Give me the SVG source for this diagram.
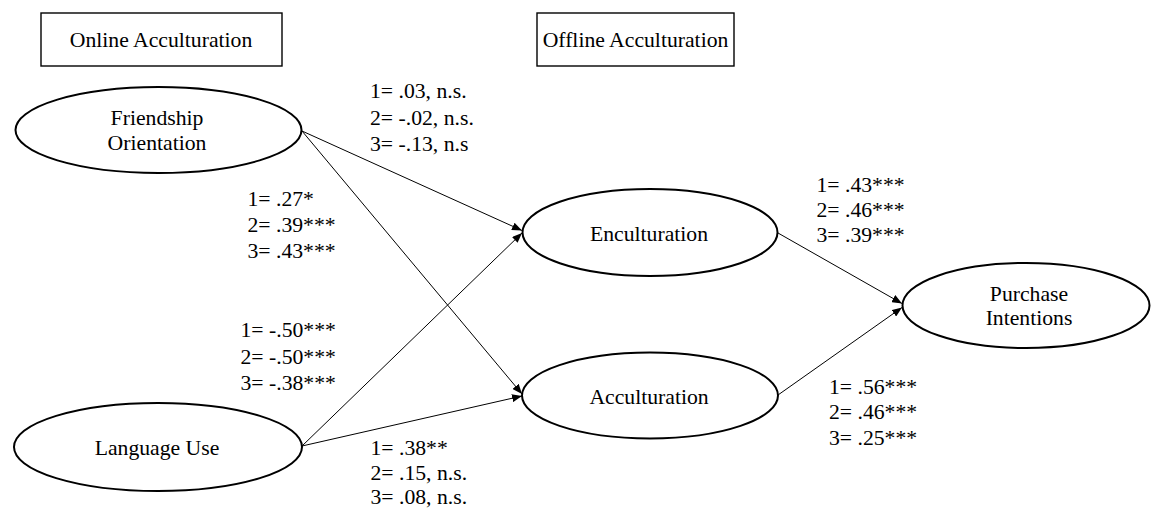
<svg xmlns="http://www.w3.org/2000/svg" width="1151" height="509" viewBox="0 0 1151 509">
  <style>
    .bg { fill: #ffffff; }
    .box { fill: #ffffff; stroke: #000000; stroke-width: 1.4; }
    .node { fill: #ffffff; stroke: #000000; stroke-width: 2; }
    .edge { fill: none; stroke: #000000; stroke-width: 1; marker-end: url(#arrow); }
    text { font-family: "Liberation Serif", "Times New Roman", serif; font-size: 21.7px; fill: #000000; }
    .c { text-anchor: middle; }
  </style>
  <defs>
    <marker id="arrow" markerUnits="userSpaceOnUse" markerWidth="10" markerHeight="8" refX="10" refY="4" orient="auto">
      <path d="M0,0 L10,4 L0,8 z" fill="#000000"/>
    </marker>
  </defs>

  <rect class="bg" x="0" y="0" width="1151" height="509"/>

  <!-- section headers -->
  <g id="header-online">
    <rect class="box" x="41" y="13" width="241" height="53"/>
    <text class="c" x="161" y="47">Online Acculturation</text>
  </g>
  <g id="header-offline">
    <rect class="box" x="537" y="13" width="197" height="53"/>
    <text class="c" x="635.5" y="47">Offline Acculturation</text>
  </g>

  <!-- connectors -->
  <g id="connectors">
    <line class="edge" x1="302" y1="131" x2="522" y2="230.5"/>
    <line class="edge" x1="302" y1="131" x2="522" y2="394"/>
    <line class="edge" x1="302" y1="446" x2="522" y2="233"/>
    <line class="edge" x1="302" y1="446" x2="522" y2="396"/>
    <line class="edge" x1="778" y1="233" x2="902" y2="303.5"/>
    <line class="edge" x1="778" y1="395" x2="902" y2="307.5"/>
  </g>

  <!-- latent variables -->
  <g id="node-friendship">
    <ellipse class="node" cx="158.5" cy="130" rx="143" ry="43"/>
    <text class="c" x="157" y="125">Friendship</text>
    <text class="c" x="157" y="150">Orientation</text>
  </g>
  <g id="node-language">
    <ellipse class="node" cx="158" cy="447" rx="144" ry="44"/>
    <text class="c" x="157" y="455">Language Use</text>
  </g>
  <g id="node-enculturation">
    <ellipse class="node" cx="650" cy="232.5" rx="127.5" ry="43.5"/>
    <text class="c" x="649" y="240.5">Enculturation</text>
  </g>
  <g id="node-acculturation">
    <ellipse class="node" cx="650" cy="395.5" rx="128" ry="43"/>
    <text class="c" x="649" y="404">Acculturation</text>
  </g>
  <g id="node-purchase">
    <ellipse class="node" cx="1026" cy="305.5" rx="123.5" ry="42.5"/>
    <text class="c" x="1029" y="300.5">Purchase</text>
    <text class="c" x="1029" y="325">Intentions</text>
  </g>

  <!-- path coefficients -->
  <g id="coef-fo-enc">
    <text x="370" y="97.5">1= .03, n.s.</text>
    <text x="370" y="124.5">2= -.02, n.s.</text>
    <text x="370" y="151">3= -.13, n.s</text>
  </g>
  <g id="coef-fo-acc">
    <text x="247.5" y="206">1= .27*</text>
    <text x="247.5" y="232">2= .39***</text>
    <text x="247.5" y="257.5">3= .43***</text>
  </g>
  <g id="coef-lu-enc">
    <text x="240.5" y="337">1= -.50***</text>
    <text x="240.5" y="363.5">2= -.50***</text>
    <text x="240.5" y="390">3= -.38***</text>
  </g>
  <g id="coef-lu-acc">
    <text x="370.5" y="455">1= .38**</text>
    <text x="370.5" y="479.5">2= .15, n.s.</text>
    <text x="370.5" y="504">3= .08, n.s.</text>
  </g>
  <g id="coef-enc-pi">
    <text x="816.5" y="191.5">1= .43***</text>
    <text x="816.5" y="217">2= .46***</text>
    <text x="816.5" y="242">3= .39***</text>
  </g>
  <g id="coef-acc-pi">
    <text x="829" y="393.5">1= .56***</text>
    <text x="829" y="419">2= .46***</text>
    <text x="829" y="445">3= .25***</text>
  </g>
</svg>
